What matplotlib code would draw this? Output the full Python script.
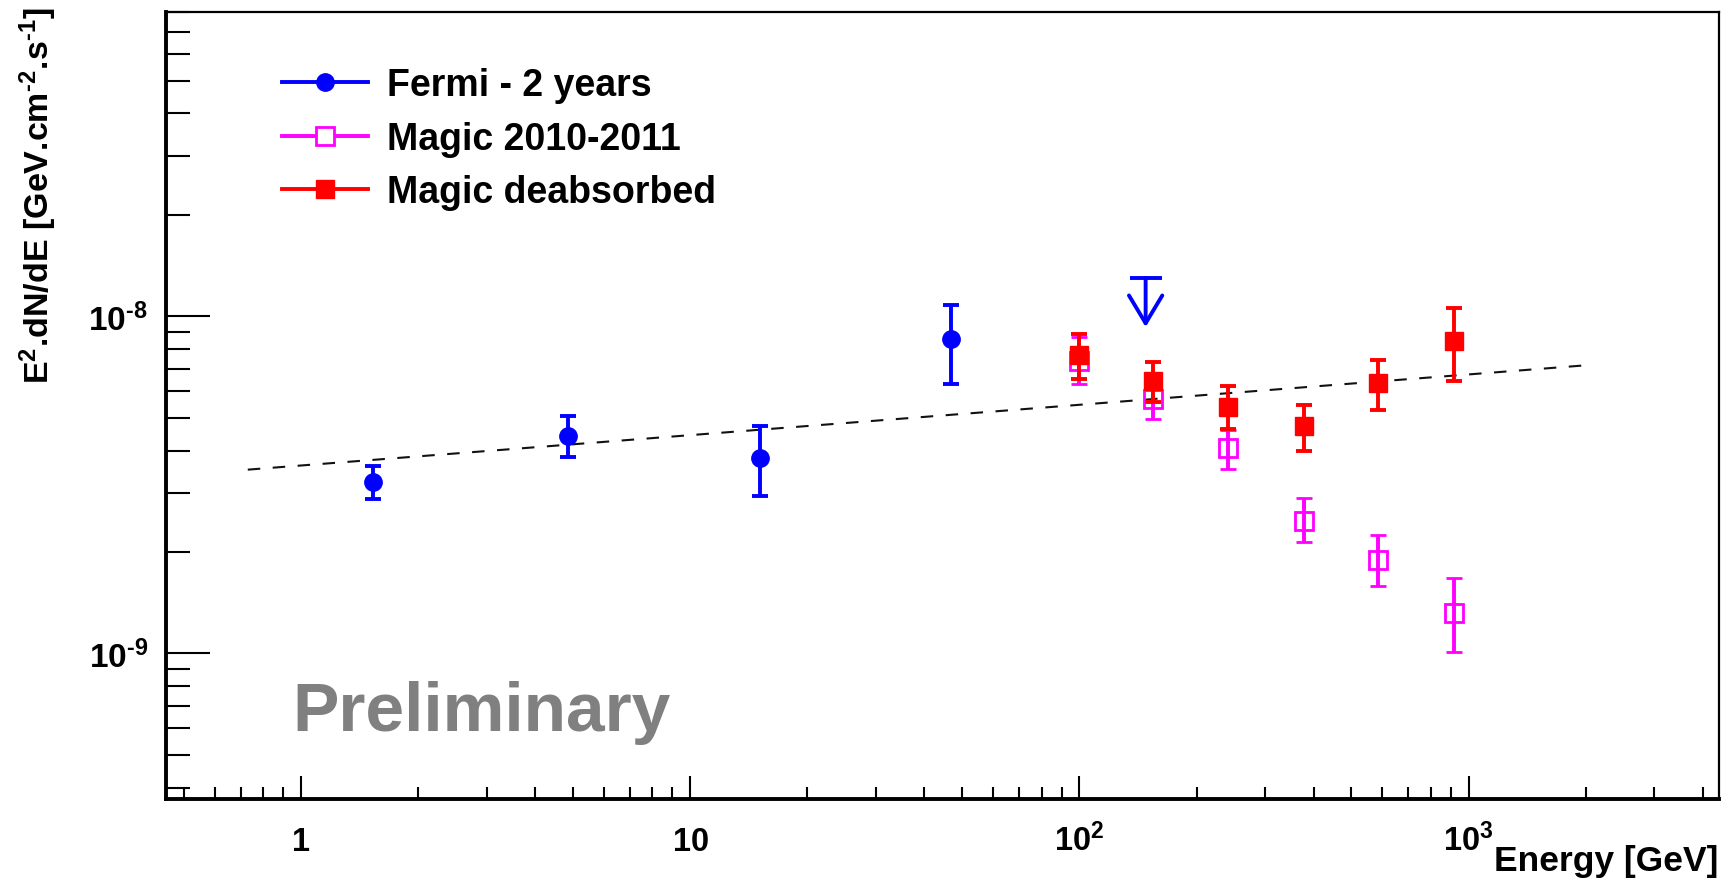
import matplotlib
matplotlib.use("Agg")
import matplotlib.pyplot as plt
from matplotlib.lines import Line2D
from matplotlib.ticker import FixedLocator, NullFormatter, LogLocator
import numpy as np

plt.rcParams['font.family'] = ['Liberation Sans', 'DejaVu Sans']
plt.rcParams['font.weight'] = 'bold'
plt.rcParams['mathtext.fontset'] = 'custom'
plt.rcParams['mathtext.rm'] = 'Liberation Sans:bold'
plt.rcParams['mathtext.it'] = 'Liberation Sans:bold'
plt.rcParams['mathtext.bf'] = 'Liberation Sans:bold'
plt.rcParams['mathtext.default'] = 'rm'

# ---------------- data ----------------
fermi_E = [1.53, 4.84, 15.1, 46.7]
fermi_F = [3.23e-9, 4.41e-9, 3.79e-9, 8.55e-9]
fermi_lo = [2.87e-9, 3.82e-9, 2.94e-9, 6.28e-9]
fermi_hi = [3.59e-9, 5.05e-9, 4.72e-9, 1.08e-8]

ul_E = 148.0
ul_F = 1.30e-8
ul_tip = 9.3e-9

magic_E = [99.5, 154.5, 240.5, 377.0, 584.0, 915.0]
magic_F = [7.35e-9, 5.67e-9, 4.06e-9, 2.48e-9, 1.89e-9, 1.32e-9]
magic_lo = [6.28e-9, 4.95e-9, 3.52e-9, 2.14e-9, 1.59e-9, 1.01e-9]
magic_hi = [8.66e-9, 6.45e-9, 4.59e-9, 2.90e-9, 2.24e-9, 1.67e-9]

deabs_F = [7.66e-9, 6.41e-9, 5.37e-9, 4.72e-9, 6.33e-9, 8.43e-9]
deabs_lo = [6.50e-9, 5.56e-9, 4.62e-9, 4.00e-9, 5.26e-9, 6.41e-9]
deabs_hi = [8.84e-9, 7.30e-9, 6.20e-9, 5.45e-9, 7.40e-9, 1.056e-8]

fit_E = [0.73, 2000.0]
fit_F = [3.51e-9, 7.16e-9]

legend_labels = ["Fermi - 2 years", "Magic 2010-2011", "Magic deabsorbed"]
xtick_vals = [1, 10, 100, 1000]
xtick_labels = [r"$1$", r"$10$", r"$10^{2}$", r"$10^{3}$"]
ytick_vals = [1e-9, 1e-8]
ytick_labels = [r"$10^{\text{-}9}$", r"$10^{\text{-}8}$"]

BLUE = "#0000ff"
MAG = "#ff00ff"
RED = "#ff0000"

W, H = 1729, 879
fig = plt.figure(figsize=(W / 100, H / 100), dpi=100)
ax = fig.add_axes([166 / W, 1 - 800 / H, (1719 - 166) / W, (800 - 13) / H])
ax.set_xscale("log")
ax.set_yscale("log")
ax.set_xlim(0.45, 4400)
ax.set_ylim(3.7e-10, 8.0e-8)

def err(F, lo, hi):
    F = np.asarray(F); lo = np.asarray(lo); hi = np.asarray(hi)
    return np.vstack([F - lo, hi - F])

elw = 2.8
cap = 6
# fit line
fl, = ax.plot(fit_E, fit_F, color="#111111", lw=1.5, zorder=2)
fl.set_dashes((6, 6))

ax.errorbar(fermi_E, fermi_F, yerr=err(fermi_F, fermi_lo, fermi_hi), fmt="o",
            color=BLUE, ms=12.5, elinewidth=elw, capsize=cap, capthick=elw, zorder=3)
ax.errorbar(magic_E, magic_F, yerr=err(magic_F, magic_lo, magic_hi), fmt="s",
            color=MAG, mfc="none", mec=MAG, mew=2.0, ms=13.5, elinewidth=elw,
            capsize=cap, capthick=elw, zorder=3)
ax.errorbar(magic_E, deabs_F, yerr=err(deabs_F, deabs_lo, deabs_hi), fmt="s",
            color=RED, ms=13.5, elinewidth=elw, capsize=cap, capthick=elw, zorder=4)

# upper limit
ax.plot([ul_E], [ul_F], marker="_", ms=23, mew=elw, color=BLUE, zorder=3)
ax.annotate("", xy=(ul_E, ul_tip), xytext=(ul_E, ul_F),
            arrowprops=dict(arrowstyle="->,head_length=1.0,head_width=0.6",
                            lw=elw, color=BLUE, shrinkA=0, shrinkB=0,
                            mutation_scale=20), zorder=3)

# axes styling
for s in ["left", "bottom"]:
    ax.spines[s].set_linewidth(2.8)
for s in ["top", "right"]:
    ax.spines[s].set_linewidth(1.6)

ax.xaxis.set_major_locator(FixedLocator(xtick_vals))
ax.set_xticklabels(xtick_labels)
ax.yaxis.set_major_locator(FixedLocator(ytick_vals))
ax.set_yticklabels(ytick_labels)
ax.xaxis.set_minor_locator(LogLocator(base=10, subs=np.arange(2, 10), numticks=20))
ax.yaxis.set_minor_locator(LogLocator(base=10, subs=np.arange(2, 10), numticks=20))
ax.xaxis.set_minor_formatter(NullFormatter())
ax.yaxis.set_minor_formatter(NullFormatter())

ax.tick_params(axis="both", which="both", direction="in", top=False, right=False,
               width=1.5, color="black")
ax.tick_params(axis="y", which="major", length=32, pad=13, labelsize=24)
ax.tick_params(axis="y", which="minor", length=17)
ax.tick_params(axis="x", which="major", length=16.5, pad=37, labelsize=23.5)
ax.tick_params(axis="x", which="minor", length=8.6)
for t in ax.xaxis.get_major_ticks():
    t.label1.set_va("baseline")

# axis titles
fig.text(38 / W, 1 - 7 / H, r"E$^{2}$.dN/dE [GeV.cm$^{\text{-}2}$.s$^{\text{-}1}$]",
         rotation=90, ha="center", va="top", fontsize=24.5, fontweight="bold")
fig.text(1718 / W, 1 - 871 / H, "Energy [GeV]", ha="right", va="baseline",
         fontsize=25.5, fontweight="bold")

# Preliminary
ax.text((292 - 166) / 1553, (800 - 731) / 787, "Preliminary", transform=ax.transAxes,
        ha="left", va="baseline", fontsize=50, fontweight="bold", color="#808080")

# legend
handles = [
    Line2D([], [], color=BLUE, lw=2.8, marker="o", ms=12.5),
    Line2D([], [], color=MAG, lw=2.8, marker="s", ms=13.5, mfc="white", mew=2.0),
    Line2D([], [], color=RED, lw=2.8, marker="s", ms=13.5),
]
leg = fig.legend(handles, legend_labels, loc="upper left",
                 bbox_to_anchor=(282 / W, 1 - 68 / H), frameon=False,
                 fontsize=27, handlelength=2.3, handletextpad=0.5,
                 labelspacing=0.47, borderpad=0, borderaxespad=0)
for t in leg.get_texts():
    t.set_fontweight("bold")

fig.savefig("out.png", dpi=100)
